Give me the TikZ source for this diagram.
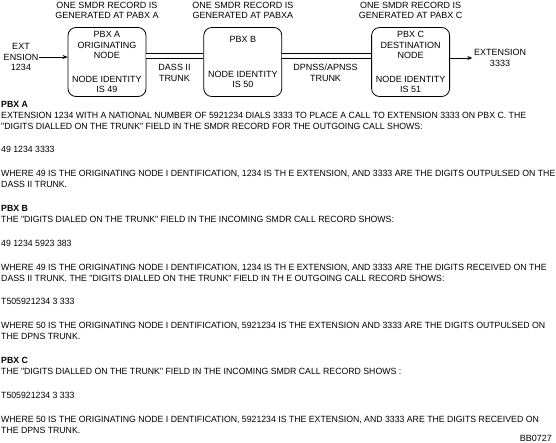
\documentclass[tikz,border=0pt]{standalone}
\usepackage{fontspec}
\setmainfont{Liberation Sans}
\newfontfamily\notefont{Liberation Sans}[FakeStretch=0.97]
\usetikzlibrary{positioning,arrows.meta}
\begin{document}
\begin{tikzpicture}[x=1pt,y=-1pt,
    txt/.style={inner sep=0pt,font=\fontsize{9}{10.8}\selectfont},
    note/.style={txt,align=left,anchor=north west,font=\notefont\fontsize{9}{11}\selectfont},
    pbx/.style={txt,draw,line width=0.8pt,rounded corners=8pt,align=center,
      minimum width=78pt,minimum height=69pt},
    trunk/.style={double,double distance=3.9pt,line width=0.6pt},
    arr/.style={-{Stealth[length=5pt,width=4pt]},line width=0.6pt}]
  \useasboundingbox (0,0) rectangle (556,442);
  % exchanges
  \node[pbx] (pbxa) at (107,62) {PBX A\\ORIGINATING\\NODE\\[12.5pt]NODE IDENTITY\\IS 49};
  \node[pbx,right=57pt of pbxa] (pbxb) {PBX B\\[24pt]NODE IDENTITY\\IS 50};
  \node[pbx,right=89pt of pbxb] (pbxc) {PBX C\\DESTINATION\\NODE\\[12.5pt]NODE IDENTITY\\IS 51};
  \node[txt,align=center,above=8pt of pbxa] (reca) {ONE SMDR RECORD IS\\GENERATED AT PABX A};
  \node[txt,align=center,above=8pt of pbxb] (recb) {ONE SMDR RECORD IS\\GENERATED AT PABXA};
  \node[txt,align=center,above=8pt of pbxc] (recc) {ONE SMDR RECORD IS\\GENERATED AT PABX C};
  % trunks and extensions
  \draw[trunk] ([yshift=6pt]pbxa.east) -- ([yshift=6pt]pbxb.west);
  \draw[trunk] ([yshift=6pt]pbxb.east) -- ([yshift=6pt]pbxc.west);
  \node[txt,align=center] (dass) at (174.5,73) {DASS II\\TRUNK};
  \node[txt,align=center] (dpnss) at (325.5,73) {DPNSS/APNSS\\TRUNK};
  \node[txt,align=center,inner sep=1pt] (exta) at (21,57) {EXT\\ENSION\\1234};
  \node[txt,align=center,inner sep=1.5pt] (extc) at (500,58) {EXTENSION\\3333};
  \draw[arr] (exta.east) -- (exta.east -| pbxa.west);
  \draw[arr] (extc.west -| pbxc.east) -- (extc.west);
  % notes
  \node[note] (notea) at (1,100.8) {{\bfseries PBX A}\\
    EXTENSION 1234 WITH A NATIONAL NUMBER OF 5921234 DIALS 3333 TO PLACE A CALL TO EXTENSION 3333 ON PBX C. THE\\
    "DIGITS DIALLED ON THE TRUNK" FIELD IN THE SMDR RECORD FOR THE OUTGOING CALL SHOWS:\\[12.8pt]
    49 1234 3333\\[12.8pt]
    WHERE 49 IS THE ORIGINATING NODE I DENTIFICATION, 1234 IS TH E EXTENSION, AND 3333 ARE THE DIGITS OUTPULSED ON THE\\
    DASS II TRUNK.};
  \node[note] (noteb) at (1,205.2) {{\bfseries PBX B}\\
    THE "DIGITS DIALED ON THE TRUNK" FIELD IN THE INCOMING SMDR CALL RECORD SHOWS:\\[12.8pt]
    49 1234 5923 383\\[12.8pt]
    WHERE 49 IS THE ORIGINATING NODE I DENTIFICATION, 1234 IS TH E EXTENSION, AND 3333 ARE THE DIGITS RECEIVED ON THE\\
    DASS II TRUNK. THE "DIGITS DIALLED ON THE TRUNK" FIELD IN TH E OUTGOING CALL RECORD SHOWS:\\[12.8pt]
    T505921234 3 333\\[12.8pt]
    WHERE 50 IS THE ORIGINATING NODE I DENTIFICATION, 5921234 IS THE EXTENSION AND 3333 ARE THE DIGITS OUTPULSED ON\\
    THE DPNS TRUNK.};
  \node[note] (notec) at (1,357.2) {{\bfseries PBX C}\\
    THE "DIGITS DIALLED ON THE TRUNK" FIELD IN THE INCOMING SMDR CALL RECORD SHOWS :\\[12.8pt]
    T505921234 3 333\\[12.8pt]
    WHERE 50 IS THE ORIGINATING NODE I DENTIFICATION, 5921234 IS THE EXTENSION, AND 3333 ARE THE DIGITS RECEIVED ON\\
    THE DPNS TRUNK.};
  \node[txt,anchor=east] (ref) at (552,438) {BB0727};
\end{tikzpicture}
\end{document}
